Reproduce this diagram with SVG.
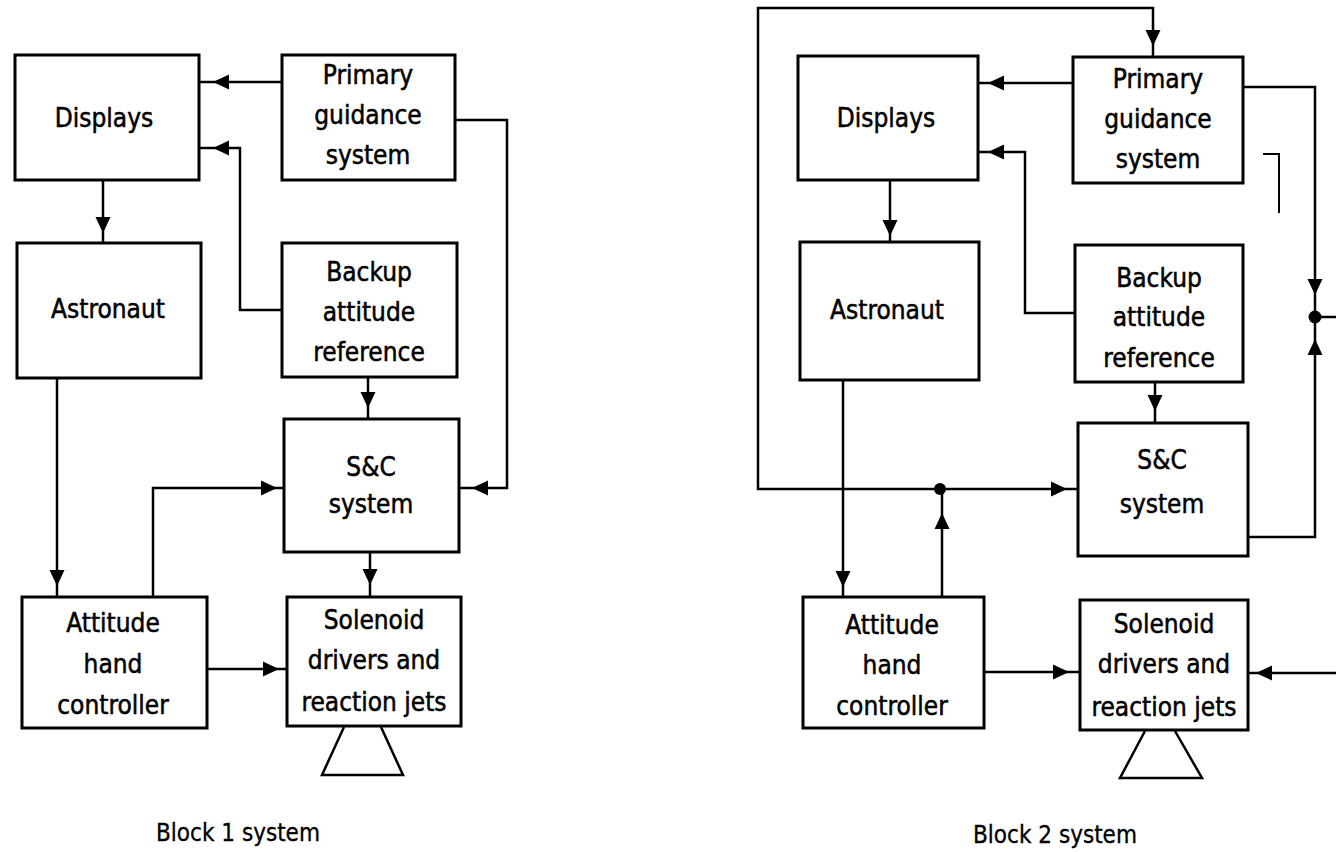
<svg xmlns="http://www.w3.org/2000/svg" width="1336" height="852" viewBox="0 0 1336 852">
<style>
.box{fill:#fff;stroke:#000;stroke-width:3}
.ln{fill:none;stroke:#000;stroke-width:2.5}
.thin{fill:none;stroke:#000;stroke-width:2}
.t{font-family:"DejaVu Sans Condensed","Liberation Sans",Arial,sans-serif;font-size:26px;fill:#000;stroke:#000;stroke-width:0.5;text-anchor:middle}
.cap{font-family:"DejaVu Sans Condensed","Liberation Sans",Arial,sans-serif;font-size:24px;fill:#000;stroke:#000;stroke-width:0.3;text-anchor:middle}
.dot{fill:#000}
</style>
<defs>
<path id="ah" d="M0,0 L-16,-7.5 L-16,7.5 Z" fill="#000"/>
</defs>
<rect width="1336" height="852" fill="#fff"/>

<!-- ===== Block 1 ===== -->
<g id="b1-connectors">
  <path class="ln" d="M282,82 H199"/>
  <path class="ln" d="M282,310 H240 V148 H199"/>
  <path class="ln" d="M103,180 V243"/>
  <path class="ln" d="M57,378 V597"/>
  <path class="ln" d="M153,597 V488 H284"/>
  <path class="ln" d="M368,377 V419"/>
  <path class="ln" d="M370,552 V597"/>
  <path class="ln" d="M207,669 H287"/>
  <path class="ln" d="M455,120 H507 V488 H459"/>
  <use href="#ah" transform="translate(213,82) rotate(180)"/>
  <use href="#ah" transform="translate(213,148) rotate(180)"/>
  <use href="#ah" transform="translate(103,233) rotate(90)"/>
  <use href="#ah" transform="translate(57,586) rotate(90)"/>
  <use href="#ah" transform="translate(277,488)"/>
  <use href="#ah" transform="translate(368,408) rotate(90)"/>
  <use href="#ah" transform="translate(370,585) rotate(90)"/>
  <use href="#ah" transform="translate(279,669)"/>
  <use href="#ah" transform="translate(472,488) rotate(180)"/>
</g>
<g id="b1-displays">
  <rect class="box" x="15" y="55" width="184" height="125"/>
  <text class="t" x="104" y="127">Displays</text>
</g>
<g id="b1-primary">
  <rect class="box" x="282" y="55" width="173" height="125"/>
  <text class="t" x="368" y="84">Primary</text>
  <text class="t" x="368" y="124">guidance</text>
  <text class="t" x="368" y="164">system</text>
</g>
<g id="b1-astronaut">
  <rect class="box" x="17" y="243" width="184" height="135"/>
  <text class="t" x="108" y="318">Astronaut</text>
</g>
<g id="b1-backup">
  <rect class="box" x="282" y="243" width="175" height="134"/>
  <text class="t" x="369" y="281">Backup</text>
  <text class="t" x="369" y="321">attitude</text>
  <text class="t" x="369" y="361">reference</text>
</g>
<g id="b1-sc">
  <rect class="box" x="284" y="419" width="175" height="133"/>
  <text class="t" x="371" y="476">S&amp;C</text>
  <text class="t" x="371" y="513">system</text>
</g>
<g id="b1-attitude">
  <rect class="box" x="22" y="597" width="185" height="131"/>
  <text class="t" x="113" y="632">Attitude</text>
  <text class="t" x="113" y="673">hand</text>
  <text class="t" x="113" y="714">controller</text>
</g>
<g id="b1-solenoid">
  <rect class="box" x="287" y="597" width="174" height="129"/>
  <text class="t" x="374" y="629">Solenoid</text>
  <text class="t" x="374" y="669">drivers and</text>
  <text class="t" x="374" y="711">reaction jets</text>
  <polyline class="ln" points="344,727 322,775 403,775 381,727"/>
</g>
<text id="b1-caption" class="cap" x="238" y="841">Block 1 system</text>

<!-- ===== Block 2 ===== -->
<g id="b2-connectors">
  <path class="ln" d="M940,489 H758 V8 H1153 V57"/>
  <path class="ln" d="M940,489 H1078"/>
  <path class="ln" d="M942,597 V489"/>
  <path class="ln" d="M843,380 V597"/>
  <path class="ln" d="M890,180 V242"/>
  <path class="ln" d="M1073,83 H978"/>
  <path class="ln" d="M1075,313 H1025 V152 H978"/>
  <path class="ln" d="M1155,382 V423"/>
  <path class="ln" d="M1243,87 H1315 V317 H1336"/>
  <path class="ln" d="M1248,537 H1315 V317"/>
  <path class="ln" d="M984,672 H1080"/>
  <path class="ln" d="M1336,673 H1248"/>
  <path class="thin" d="M1263,154 H1279 V213"/>
  <circle class="dot" cx="940" cy="489" r="6"/>
  <circle class="dot" cx="1315" cy="317" r="6.5"/>
  <use href="#ah" transform="translate(1153,46) rotate(90)"/>
  <use href="#ah" transform="translate(1067,489)"/>
  <use href="#ah" transform="translate(942,513) rotate(-90)"/>
  <use href="#ah" transform="translate(843,587) rotate(90)"/>
  <use href="#ah" transform="translate(890,236) rotate(90)"/>
  <use href="#ah" transform="translate(988,83) rotate(180)"/>
  <use href="#ah" transform="translate(988,152) rotate(180)"/>
  <use href="#ah" transform="translate(1155,411) rotate(90)"/>
  <use href="#ah" transform="translate(1315,295) rotate(90)"/>
  <use href="#ah" transform="translate(1315,339) rotate(-90)"/>
  <use href="#ah" transform="translate(1069,672)"/>
  <use href="#ah" transform="translate(1256,673) rotate(180)"/>
</g>
<g id="b2-displays">
  <rect class="box" x="798" y="56" width="180" height="124"/>
  <text class="t" x="886" y="127">Displays</text>
</g>
<g id="b2-primary">
  <rect class="box" x="1073" y="57" width="170" height="126"/>
  <text class="t" x="1158" y="88">Primary</text>
  <text class="t" x="1158" y="128">guidance</text>
  <text class="t" x="1158" y="168">system</text>
</g>
<g id="b2-astronaut">
  <rect class="box" x="800" y="242" width="179" height="138"/>
  <text class="t" x="887" y="319">Astronaut</text>
</g>
<g id="b2-backup">
  <rect class="box" x="1075" y="245" width="168" height="137"/>
  <text class="t" x="1159" y="287">Backup</text>
  <text class="t" x="1159" y="326">attitude</text>
  <text class="t" x="1159" y="367">reference</text>
</g>
<g id="b2-sc">
  <rect class="box" x="1078" y="423" width="170" height="133"/>
  <text class="t" x="1162" y="469">S&amp;C</text>
  <text class="t" x="1162" y="513">system</text>
</g>
<g id="b2-attitude">
  <rect class="box" x="803" y="597" width="181" height="131"/>
  <text class="t" x="892" y="634">Attitude</text>
  <text class="t" x="892" y="674">hand</text>
  <text class="t" x="892" y="715">controller</text>
</g>
<g id="b2-solenoid">
  <rect class="box" x="1080" y="600" width="168" height="130"/>
  <text class="t" x="1164" y="633">Solenoid</text>
  <text class="t" x="1164" y="673">drivers and</text>
  <text class="t" x="1164" y="716">reaction jets</text>
  <polyline class="ln" points="1145,731 1120,778 1202,778 1175,731"/>
</g>
<text id="b2-caption" class="cap" x="1055" y="843">Block 2 system</text>
</svg>
